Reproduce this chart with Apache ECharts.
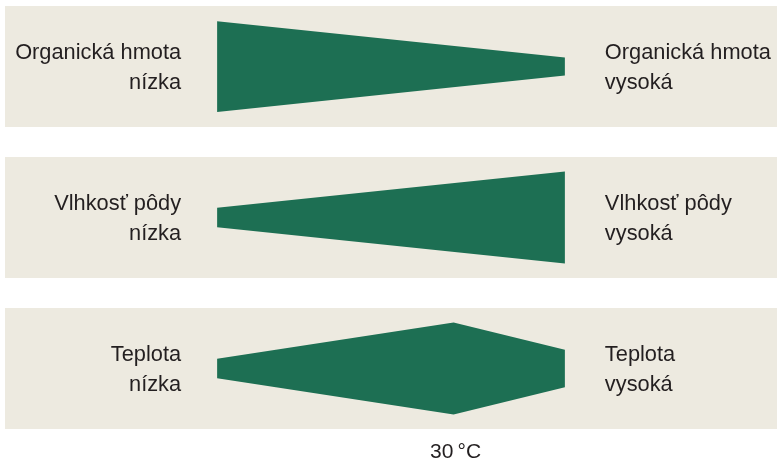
<!DOCTYPE html>
<html>
<head>
<meta charset="utf-8">
<script src="https://cdn.jsdelivr.net/npm/echarts@6/dist/echarts.min.js"></script>
<style>html,body{margin:0;padding:0;background:#fff}#c{width:777px;height:463px}</style>
</head>
<body>
<div id="c"></div>
<script>
// ---- data ----
const rowNames = ['Organická hmota', 'Vlhkosť pôdy', 'Teplota'];
const lowLabel = 'nízka';
const highLabel = 'vysoká';
// position along the gradient (0 = low, 100 = high) and relative half-thickness of the wedge
const organicX = [0, 100];
const organicW = [0.75, 0.15];
const moistureX = [0, 100];
const moistureW = [0.16, 0.76];
const temperatureX = [0, 68, 100];
const temperatureW = [0.16, 0.76, 0.31];
const peakLabel = '30\u2009°C';
const peakIndex = 1;

const rows = [
  {name: rowNames[0], xs: organicX, ws: organicW},
  {name: rowNames[1], xs: moistureX, ws: moistureW},
  {name: rowNames[2], xs: temperatureX, ws: temperatureW, peak: peakIndex}
];

const BEIGE = '#edeae0';
const GREEN = '#1d6f53';
const TEXT = '#231f20';
const FONT = 'Helvetica, Arial, "Liberation Sans", sans-serif';
const FS = 21.8;
const bandTops = [6, 157, 308];
const bandH = 121;

const grids = rows.map((r, i) => ({
  left: 5, right: 0, top: bandTops[i], height: bandH,
  show: true, backgroundColor: BEIGE, borderWidth: 0
}));
const xAxes = rows.map((r, i) => ({type: 'value', gridIndex: i, min: -61, max: 161, show: false}));
const yAxes = rows.map((r, i) => ({type: 'value', gridIndex: i, min: -1, max: 1, show: false}));

const series = rows.map((r, i) => ({
  type: 'custom',
  xAxisIndex: i, yAxisIndex: i,
  silent: true,
  data: [0],
  renderItem: function (params, api) {
    const top = r.xs.map((x, k) => api.coord([x, r.ws[k]]));
    const bot = r.xs.map((x, k) => api.coord([x, -r.ws[k]])).reverse();
    const L = api.coord([r.xs[0], 0]);
    const R = api.coord([r.xs[r.xs.length - 1], 0]);
    const children = [
      {type: 'polygon', shape: {points: top.concat(bot)}, style: {fill: GREEN}},
      {type: 'text', style: {x: L[0] - 36, y: L[1] + 1, text: r.name + '\n' + lowLabel,
        fill: TEXT, font: FS + 'px ' + FONT, align: 'right', verticalAlign: 'middle', lineHeight: 30}},
      {type: 'text', style: {x: R[0] + 40, y: R[1] + 1, text: r.name + '\n' + highLabel,
        fill: TEXT, font: FS + 'px ' + FONT, align: 'left', verticalAlign: 'middle', lineHeight: 30}}
    ];
    if (r.peak != null) {
      const P = api.coord([r.xs[r.peak], -1]);
      children.push({type: 'text', style: {x: P[0] + 2, y: P[1] + 23, text: peakLabel,
        fill: TEXT, font: '21px ' + FONT, align: 'center', verticalAlign: 'middle'}});
    }
    return {type: 'group', children: children};
  }
}));

const chart = echarts.init(document.getElementById('c'), null, {renderer: 'canvas'});
chart.setOption({
  animation: false,
  grid: grids, xAxis: xAxes, yAxis: yAxes, series: series
});
</script>
</body>
</html>
